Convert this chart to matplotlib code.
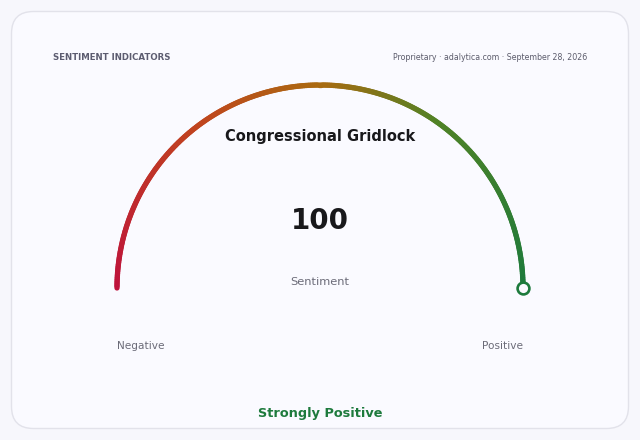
import numpy as np
import matplotlib
matplotlib.use("Agg")
import matplotlib.pyplot as plt
from matplotlib.collections import LineCollection
from matplotlib.colors import LinearSegmentedColormap
from matplotlib.patches import FancyBboxPatch

plt.rcParams['font.family'] = ['DejaVu Sans']

# ---- data ----
title = "Congressional Gridlock"
value = 100
vmin, vmax = 0, 100
label_center = "Sentiment"
label_left = "Negative"
label_right = "Positive"
verdict = "Strongly Positive"
header_left = "SENTIMENT INDICATORS"
header_right = "Proprietary · adalytica.com · September 28, 2026"

W, H = 640, 440
fig = plt.figure(figsize=(W / 100, H / 100), dpi=100)
fig.patch.set_facecolor("#f7f7fc")
ax = fig.add_axes([0, 0, 1, 1])
ax.set_xlim(0, W)
ax.set_ylim(H, 0)
ax.axis("off")

card = FancyBboxPatch((11.5, 11.5), 617, 417, boxstyle="round,pad=0,rounding_size=22",
                      facecolor="#fafaff", edgecolor="#e2e2ea", linewidth=1.0)
ax.add_patch(card)

# gauge
cx, cy, r = 320, 288, 203
cmap = LinearSegmentedColormap.from_list("g", [
    (0.0, "#be123c"), (0.3, "#c0451e"), (0.5, "#aa6a10"),
    (0.7, "#4f8226"), (1.0, "#1d7a3c")])
frac = (value - vmin) / (vmax - vmin)
n = 300
t = np.linspace(0, frac, n)
ang = np.pi * (1 - t)
xs = cx + r * np.cos(ang)
ys = cy - r * np.sin(ang)
pts = np.column_stack([xs, ys]).reshape(-1, 1, 2)
segs = np.concatenate([pts[:-1], pts[1:]], axis=1)
lc = LineCollection(segs, colors=cmap(t[:-1]), linewidths=3.8, capstyle="round",
                    antialiaseds=True)
ax.add_collection(lc)
ax.plot([xs[-1]], [ys[-1]], "o", ms=8.5, mfc="#fafaff", mec=cmap(frac), mew=1.9, zorder=5)

ax.text(53, 58, header_left, fontsize=6.2, fontweight="bold", color="#5c5c70",
        ha="left", va="center")
ax.text(587, 58, header_right, fontsize=5.7, color="#5c5c6c", ha="right", va="center")
ax.text(cx, 137, title, fontsize=10.5, fontweight="bold", color="#18181b",
        ha="center", va="center")
ax.text(cx, 221, f"{value}", fontsize=20, fontweight="bold", color="#18181b",
        ha="center", va="center")
ax.text(cx, 282, label_center, fontsize=8.2, color="#6b6b78", ha="center", va="center")
ax.text(117, 346, label_left, fontsize=7.6, color="#6b6b78", ha="left", va="center")
ax.text(523, 346, label_right, fontsize=7.6, color="#6b6b78", ha="right", va="center")
ax.text(cx, 414, verdict, fontsize=9.3, fontweight="bold", color="#1d7a3c",
        ha="center", va="center")

fig.savefig("out.png", dpi=100, facecolor=fig.get_facecolor())
